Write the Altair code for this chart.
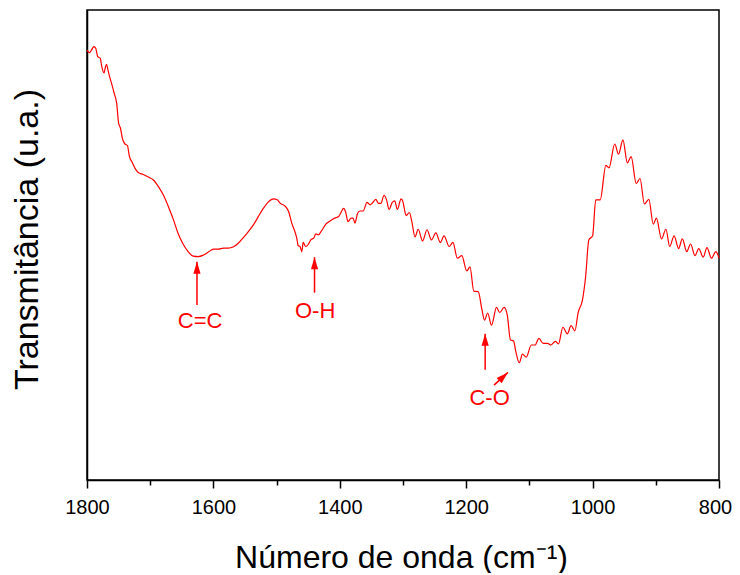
import altair as alt
import pandas as pd

# ---- data ----
wavenumber = [1800, 1796, 1793, 1789, 1786, 1783, 1779, 1777, 1773, 1771, 1769, 1767, 1765, 1761, 1757, 1753, 1750, 1747, 1744, 1740,
              1736, 1733, 1729, 1724, 1719, 1711, 1703, 1695, 1687, 1679, 1671, 1663, 1656, 1648, 1640, 1632,
              1624, 1616, 1608, 1600, 1592, 1584, 1576, 1569, 1561, 1553, 1545, 1537, 1529, 1521, 1513, 1505, 1499, 1494, 1487, 1481,
              1476, 1471, 1468, 1466, 1463, 1460, 1458, 1454, 1450, 1446, 1441, 1438, 1434, 1429, 1422, 1416, 1408, 1402, 1399, 1394,
              1391, 1387, 1382, 1379, 1376, 1372, 1368, 1363, 1357, 1352, 1349, 1343, 1339, 1335, 1330, 1326, 1322, 1317, 1313, 1309,
              1303, 1300,
              1298, 1295, 1290, 1286, 1281, 1276, 1269, 1262, 1255, 1248, 1241, 1235, 1227, 1221, 1214, 1207, 1199, 1194, 1188, 1181,
              1175, 1171, 1166, 1160, 1152, 1147, 1140, 1135, 1130,
              1125, 1122, 1116, 1111, 1105, 1097, 1091, 1085, 1078, 1071, 1066, 1059, 1054, 1047, 1040, 1034, 1028, 1023, 1016, 1011,
              1006, 1000, 995, 988, 979, 974,
              965, 959, 952, 945, 939, 931, 925, 918, 911, 904, 899, 891, 884, 878, 871, 864, 858, 851, 845, 838,
              832, 825, 819, 812, 805, 800]

transmittance = [8.23, 8.18, 8.23, 8.30, 8.26, 8.10, 8.07, 7.93, 7.78, 7.89, 7.95, 7.85, 7.74, 7.57, 7.38, 7.18, 6.79, 6.69, 6.49, 6.38,
                 6.35, 6.14, 6.03, 5.90, 5.82, 5.78, 5.73, 5.67, 5.54, 5.37, 5.14, 4.88, 4.62, 4.41, 4.26, 4.17,
                 4.16, 4.19, 4.25, 4.31, 4.31, 4.33, 4.33, 4.35, 4.42, 4.53, 4.65, 4.78, 4.95, 5.11, 5.24, 5.30, 5.28, 5.21, 5.16, 5.05,
                 4.82, 4.65, 4.52, 4.38, 4.36, 4.26, 4.44, 4.36, 4.40, 4.49, 4.53, 4.61, 4.59, 4.67, 4.80, 4.86, 4.92, 4.95, 5.01, 5.11,
                 5.05, 4.85, 4.92, 4.92, 4.82, 5.01, 5.06, 5.06, 5.23, 5.18, 5.21, 5.29, 5.21, 5.21, 5.37, 5.28, 5.09, 5.23, 5.26, 5.09,
                 5.30, 5.24,
                 5.11, 4.97, 5.03, 4.85, 4.55, 4.70, 4.47, 4.69, 4.49, 4.63, 4.44, 4.57, 4.36, 4.44, 4.13, 4.18, 3.88, 3.96, 3.48, 3.47,
                 3.11, 2.91, 3.05, 2.81, 3.16, 3.06, 3.16, 3.01, 2.52,
                 2.50, 2.32, 2.07, 2.24, 2.18, 2.42, 2.42, 2.55, 2.45, 2.45, 2.42, 2.49, 2.44, 2.77, 2.64, 2.80, 2.70, 3.05, 3.31, 3.77,
                 4.49, 4.57, 5.28, 5.28, 5.96, 5.91,
                 6.38, 6.18, 6.46, 6.01, 6.13, 5.60, 5.70, 5.20, 5.29, 4.80, 4.92, 4.51, 4.70, 4.36, 4.57, 4.32, 4.51, 4.26, 4.41, 4.18,
                 4.32, 4.15, 4.34, 4.13, 4.26, 4.13]

major_ticks = [1800, 1600, 1400, 1200, 1000, 800]
minor_ticks = [1700, 1500, 1300, 1100, 900]

# annotations (label text, position) and arrows (tail -> tip)
ann_labels = ["C=C", "O-H", "C-O"]
ann_w = [1621, 1439, 1163]
ann_t = [2.89, 3.09, 1.37]

arrow_w = [1626, 1440, 1170, 1156]
arrow_t = [3.21, 3.45, 1.93, 1.63]
arrow_w2 = [1626, 1440, 1170, 1134]
arrow_t2 = [4.06, 4.15, 2.64, 1.88]
arrow_angle = [0, 0, 0, 47]

FONT = "Liberation Sans"
RED = "#ff0000"

spec_df = pd.DataFrame({"w": wavenumber, "t": transmittance})
minor_df = pd.DataFrame({"w": minor_ticks})
label_df = pd.DataFrame({"label": ann_labels, "w": ann_w, "t": ann_t})
arrow_df = pd.DataFrame({"w": arrow_w, "t": arrow_t, "w2": arrow_w2, "t2": arrow_t2, "ang": arrow_angle})

x_scale = alt.Scale(domain=[800, 1800], reverse=True, nice=False, zero=False)
y_scale = alt.Scale(domain=[-0.24, 9.02], nice=False, zero=False)

line = alt.Chart(spec_df).mark_line(color=RED, strokeWidth=1.2, interpolate="monotone").encode(
    x=alt.X("w:Q", scale=x_scale,
            axis=alt.Axis(orient="bottom", values=major_ticks, title="Número de onda (cm⁻¹)", format="d",
                          tickSize=8, labelPadding=9, labelFlush=False,
                          labelOffset={"condition": {"test": "datum.value == 800", "value": -4}, "value": 0},
                          titleX=314, titleY=87,
                          titleFontSize=32, titleBaseline="alphabetic", titleAlign="center")),
    y=alt.Y("t:Q", scale=y_scale,
            axis=alt.Axis(labels=False, ticks=False, title="Transmitância (u.a.)",
                          titleAngle=270, titleX=-50, titleY=229, titleFontSize=34,
                          titleBaseline="alphabetic", titleAlign="center")),
    order=alt.Order("w:Q", sort="descending"),
)

minor = alt.Chart(minor_df).mark_point(opacity=0).encode(
    x=alt.X("w:Q", scale=x_scale,
            axis=alt.Axis(orient="bottom", values=minor_ticks, labels=False, tickSize=5,
                          domain=False, title="")),
)

rules = alt.Chart(arrow_df).mark_rule(color=RED, strokeWidth=1.5).encode(
    x=alt.X("w:Q", scale=x_scale, axis=None), y=alt.Y("t:Q", scale=y_scale),
    x2="w2:Q", y2="t2:Q",
)

heads = alt.Chart(arrow_df).mark_point(
    shape="M0,0L-0.6,2L0.6,2Z", filled=True, size=144, color=RED, opacity=1, strokeWidth=0
).encode(
    x=alt.X("w2:Q", scale=x_scale, axis=None), y=alt.Y("t2:Q", scale=y_scale),
    angle=alt.Angle("ang:Q", scale=None),
)

labels = alt.Chart(label_df).mark_text(
    color=RED, font=FONT, fontSize=22, align="center", baseline="middle"
).encode(
    x=alt.X("w:Q", scale=x_scale, axis=None), y=alt.Y("t:Q", scale=y_scale), text="label:N",
)

chart = alt.layer(line, minor, rules, heads, labels).resolve_axis(x="independent").properties(
    width=632, height=470,
    autosize=alt.AutoSizeParams(type="none"),
    padding={"left": 79, "top": 2, "right": 13, "bottom": 93},
).configure_view(
    stroke="black", strokeWidth=1.5
).configure_axis(
    grid=False, domainColor="black", domainWidth=1.5, tickColor="black", tickWidth=1.5,
    labelFont=FONT, labelFontSize=20, labelColor="black",
    titleFont=FONT, titleFontWeight="normal", titleColor="black",
)

chart.save("out.html", embed_options={"renderer": "svg", "actions": False})
